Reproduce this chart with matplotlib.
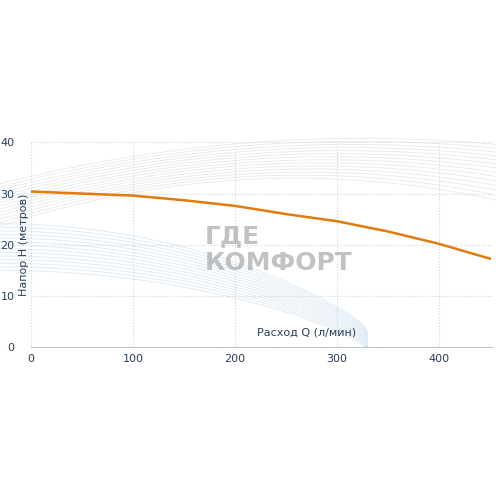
import matplotlib
matplotlib.use("Agg")
import matplotlib.pyplot as plt
import numpy as np

q = [0, 50, 100, 150, 200, 250, 300, 350, 400, 450]
h = [30.4, 30.0, 29.6, 28.7, 27.6, 26.0, 24.6, 22.6, 20.2, 17.3]
xticks = [0, 100, 200, 300, 400]
yticks = [0, 10, 20, 30, 40]

fig = plt.figure(figsize=(4.96, 4.96), dpi=100)
ax = fig.add_axes([0.0625, 0.300, 0.929, 0.413])
ax.set_xlim(0, 452)
ax.set_ylim(0, 40)

xs = np.linspace(-30, 480, 200)
for k in range(14):
    top = 33 + k * 0.6
    ax.plot(xs, top - (xs - 260 - k * 5) ** 2 / (9000 + k * 400), color="#e6e9ed", lw=0.6, zorder=1, clip_on=False)
xs2 = np.linspace(-30, 330, 200)
for k in range(14):
    base = 15 + k * 0.7
    t = np.clip((xs2 + 30) / 360, 0, 1)
    yv = base + 8 * np.cos(t * np.pi / 2) ** 0.5 - 8 * t ** 2 * (1 + k * 0.05) - 8
    yv = np.maximum(yv, 0)
    ax.plot(xs2, yv, color="#d3e3f0", lw=0.7, alpha=0.7, zorder=1, clip_on=False)

ax.text(170, 21.7, "ГДЕ", fontsize=18, fontweight="bold", color="#9a9a9a", alpha=0.6, va="center", ha="left", zorder=2)
ax.text(170, 16.4, "КОМФОРТ", fontsize=18, fontweight="bold", color="#9a9a9a", alpha=0.6, va="center", ha="left", zorder=2)

ax.plot(q, h, color="#e07b0c", lw=1.8, zorder=5)

ax.set_xticks(xticks)
ax.set_yticks(yticks)
ax.grid(True, color="#d0d4d8", ls=":", lw=0.8)
for s in ["top", "right", "left"]:
    ax.spines[s].set_visible(False)
ax.spines["bottom"].set_color("#b8c4d0")
ax.tick_params(length=0, colors="#2a3f5a", labelsize=8)
ax.tick_params(axis="y", pad=12)
ax.tick_params(axis="x", pad=5)
ax.text(270, 1.8, "Расход Q (л/мин)", fontsize=8, color="#2a3f5a", ha="center", va="bottom")
ax.text(-7, 20, "Напор H (метров)", fontsize=8, color="#2a3f5a", rotation=90, ha="center", va="center")
fig.savefig("out.png", dpi=100)
